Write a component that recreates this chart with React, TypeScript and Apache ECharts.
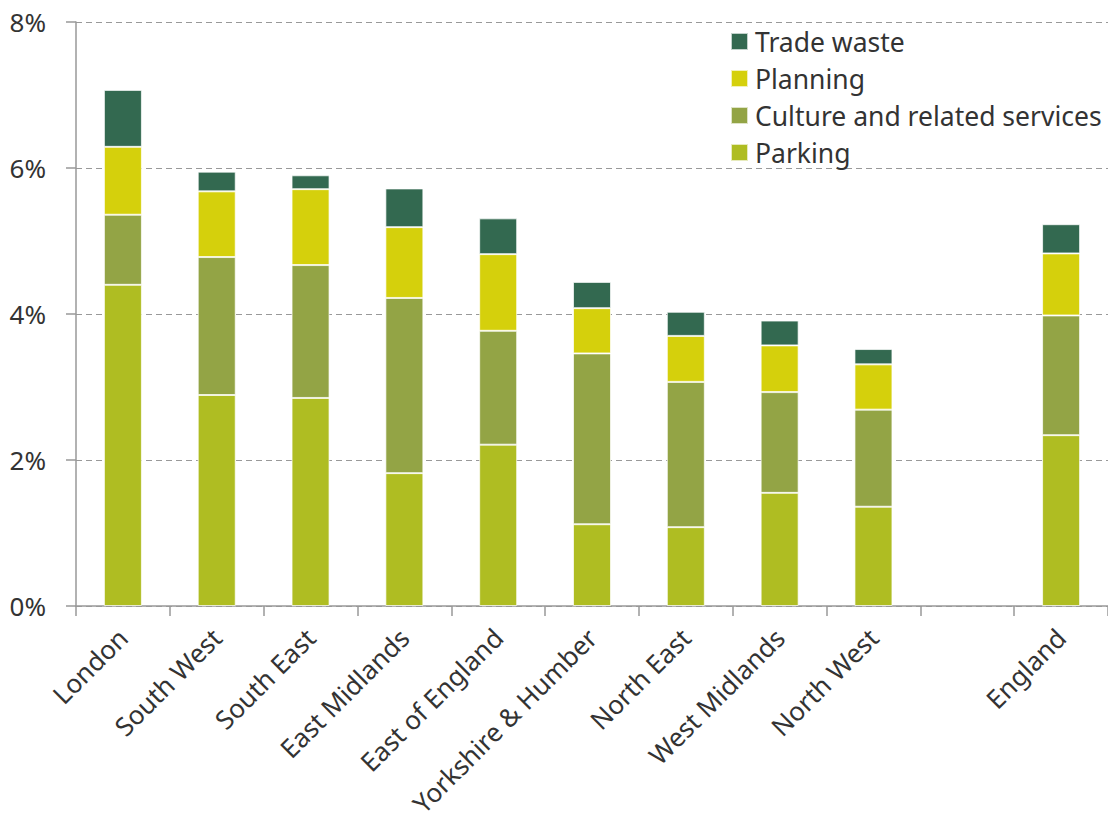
import React, { useEffect, useRef } from "react";
import * as echarts from "echarts";

const categories = [
  "London",
  "South West",
  "South East",
  "East Midlands",
  "East of England",
  "Yorkshire & Humber",
  "North East",
  "West Midlands",
  "North West",
  "",
  "England",
];

const parking = [4.4, 2.89, 2.85, 1.82, 2.21, 1.12, 1.08, 1.55, 1.36, null, 2.34];
const culture = [0.96, 1.89, 1.82, 2.4, 1.56, 2.34, 1.99, 1.38, 1.33, null, 1.64];
const planning = [0.93, 0.9, 1.04, 0.97, 1.05, 0.62, 0.63, 0.64, 0.62, null, 0.85];
const tradeWaste = [0.78, 0.27, 0.19, 0.53, 0.49, 0.36, 0.33, 0.34, 0.21, null, 0.4];

const yTicks = [0, 2, 4, 6, 8];

const COLORS = {
  trade: "#336950",
  planning: "#d5d00c",
  culture: "#93a445",
  parking: "#afbd22",
};

const FONT = "'Noto Sans', 'Open Sans', sans-serif";

export default function App() {
  const ref = useRef<HTMLDivElement>(null);

  useEffect(() => {
    if (!ref.current) return;
    const chart = echarts.init(ref.current, undefined, { renderer: "svg" });
    const mk = (name: string, data: (number | null)[], color: string) => ({
      name,
      type: "bar",
      stack: "total",
      data,
      barWidth: 38,
      itemStyle: { color, borderColor: "rgba(255,255,255,0.7)", borderWidth: 1 },
    });
    chart.setOption({
      animation: false,
      textStyle: { fontFamily: FONT },
      grid: { left: 76, right: 0, top: 22, bottom: 215, containLabel: false },
      legend: {
        orient: "vertical",
        left: 730,
        top: 28,
        padding: 0,
        itemWidth: 17,
        itemHeight: 17,
        itemGap: 10,
        data: ["Trade waste", "Planning", "Culture and related services", "Parking"],
        textStyle: { fontSize: 26.5, lineHeight: 27, color: "#333", fontFamily: FONT, padding: [0, 0, 0, 2] },
        icon: "rect",
      },
      xAxis: {
        type: "category",
        data: categories,
        axisLine: { lineStyle: { color: "#999", width: 1.5 } },
        axisTick: { show: true, length: 10, alignWithLabel: false, lineStyle: { color: "#999", width: 1.5 } },
        axisLabel: {
          interval: 0,
          rotate: 45,
          fontSize: 26,
          color: "#333",
          margin: 27,
          fontFamily: FONT,
        },
      },
      yAxis: {
        type: "value",
        min: yTicks[0],
        max: yTicks[yTicks.length - 1],
        interval: 2,
        axisLine: { show: true, lineStyle: { color: "#999", width: 1.5 } },
        axisTick: { show: true, length: 10, lineStyle: { color: "#999", width: 1.5 } },
        axisLabel: {
          formatter: "{value}%",
          fontSize: 26,
          color: "#333",
          margin: 30,
          fontFamily: FONT,
        },
        splitLine: { lineStyle: { color: "#999", type: [6, 4], width: 1 } },
      },
      series: [
        mk("Parking", parking, COLORS.parking),
        mk("Culture and related services", culture, COLORS.culture),
        mk("Planning", planning, COLORS.planning),
        mk("Trade waste", tradeWaste, COLORS.trade),
      ],
    });
    return () => chart.dispose();
  }, []);

  return (
    <div
      ref={ref}
      style={{ position: "fixed", left: 0, top: 0, width: 1108, height: 821, background: "#fff" }}
    />
  );
}
